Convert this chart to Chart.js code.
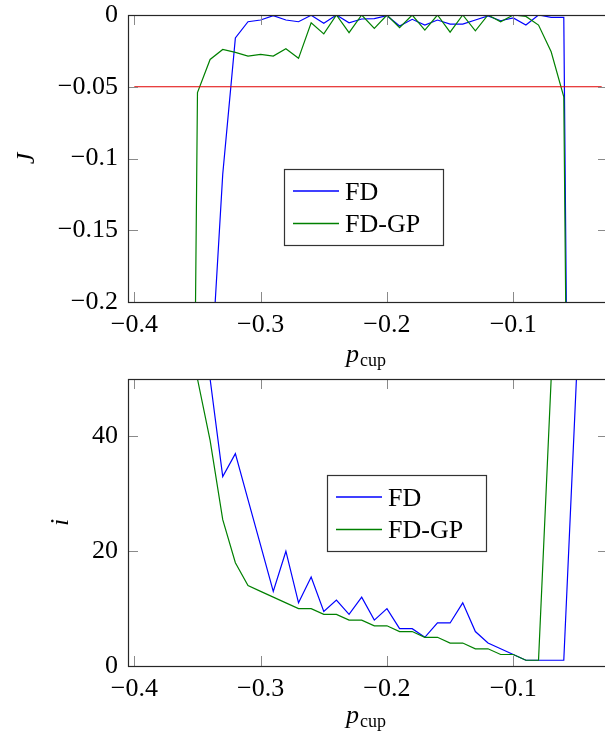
<!DOCTYPE html>
<html>
<head>
<meta charset="utf-8">
<title>J and i vs p_cup</title>
<script src="https://cdn.jsdelivr.net/npm/chart.js@4.4.1/dist/chart.umd.min.js"></script>
<style>
  html, body { margin: 0; padding: 0; background: #fff; overflow: hidden; }
  .plot { position: absolute; left: 0; width: 620px; }
  #top { top: 0; height: 370px; }
  #bottom { top: 364px; height: 374px; }
</style>
</head>
<body>
<div class="plot" id="top"><canvas id="chartJ"></canvas></div>
<div class="plot" id="bottom"><canvas id="chartI"></canvas></div>
<script>
// p_cup sample points
const P_CUP = [-0.40, -0.39, -0.38, -0.37, -0.36, -0.35, -0.34, -0.33, -0.32, -0.31,
               -0.30, -0.29, -0.28, -0.27, -0.26, -0.25, -0.24, -0.23, -0.22, -0.21,
               -0.20, -0.19, -0.18, -0.17, -0.16, -0.15, -0.14, -0.13, -0.12, -0.11,
               -0.10, -0.09, -0.08, -0.07, -0.06, -0.05, -0.04, -0.03];

// objective J (values far below the axis are clipped)
const J_FD = [-1, -1, -1, -1, -1, -1, -0.26, -0.111, -0.016, -0.0047,
              -0.0035, -0.0005, -0.0035, -0.0047, -0.0002, -0.0058, 0, -0.0054, -0.0028, -0.0025,
              -0.0005, -0.0077, -0.003, -0.007, -0.0035, -0.0063, -0.0063, -0.0035, -0.0007, -0.004,
              -0.002, -0.007, 0, -0.0016, -0.0016, -1, -1, -1];
const J_FDGP = [-1, -1, -1, -1, -1, -0.054, -0.031, -0.024, -0.026, -0.0286,
                -0.0274, -0.0286, -0.0235, -0.0302, -0.0054, -0.0132, 0, -0.0123, 0, -0.0093,
                0, -0.0088, 0, -0.0105, 0, -0.012, 0, -0.011, 0, -0.0047,
                0, -0.001, -0.007, -0.0256, -0.057, -1, -1, -1];
const J_LIMIT = -0.05;

// iteration counts i
const I_FD = [50, 50, 50, 50, 50, 50, 50, 33, 37, 29,
              21, 13, 20, 11, 15.5, 9.5, 11.5, 9, 12, 8,
              10, 6.5, 6.5, 5, 7.5, 7.5, 11, 6, 4, 3,
              2, 1, 1, 1, 1, 50, 50, 50];
const I_FDGP = [50, 50, 50, 50, 50, 50, 39.3, 25.5, 18, 14,
                13, 12, 11, 10, 10, 9, 9, 8, 8, 7,
                7, 6, 6, 5, 5, 4, 4, 3, 3, 2,
                2, 1, 1, 50, 50, 50, 50, 50];

const X_TICKS = [-0.4, -0.3, -0.2, -0.1];
const J_TICKS = [-0.2, -0.15, -0.1, -0.05, 0];
const I_TICKS = [0, 20, 40];

const SERIF = '"Liberation Serif", "Times New Roman", serif';
const FONT_SIZE = 26;
const TICK_LEN = 10;

Chart.defaults.font.family = SERIF;
Chart.defaults.color = '#000';

function fmt(v) {
  const n = Number(v.toFixed(3));
  return (n < 0 ? '\u2212' : '') + String(Math.abs(n));
}

function pts(ys) {
  return P_CUP.map((x, k) => ({x: x, y: ys[k]}));
}

// frame, inward ticks on all four sides, x title and legend box
const pgfAxes = {
  id: 'pgfAxes',
  afterDraw(chart, args, opts) {
    const {ctx, chartArea: a, scales: {x, y}} = chart;
    ctx.save();
    ctx.strokeStyle = '#8a8a8a';
    ctx.lineWidth = 1;
    ctx.beginPath();
    x.ticks.forEach(t => {
      const px = Math.round(x.getPixelForValue(t.value)) + 0.5;
      ctx.moveTo(px, a.top); ctx.lineTo(px, a.top + TICK_LEN);
      ctx.moveTo(px, a.bottom); ctx.lineTo(px, a.bottom - TICK_LEN);
    });
    y.ticks.forEach(t => {
      const py = Math.round(y.getPixelForValue(t.value)) + 0.5;
      ctx.moveTo(a.left, py); ctx.lineTo(a.left + TICK_LEN, py);
      ctx.moveTo(a.right, py); ctx.lineTo(a.right - TICK_LEN, py);
    });
    ctx.stroke();

    ctx.strokeStyle = '#262626';
    ctx.lineWidth = 1.2;
    ctx.strokeRect(Math.round(a.left) + 0.5, Math.round(a.top) + 0.5,
                   Math.round(a.width), Math.round(a.height));

    // x axis title p_cup
    const cx = (a.left + a.right) / 2 - 2;
    const base = a.bottom + opts.titleOffset;
    ctx.fillStyle = '#000';
    ctx.textBaseline = 'alphabetic';
    ctx.font = 'italic ' + FONT_SIZE + 'px ' + SERIF;
    const wp = ctx.measureText('p').width;
    ctx.font = '18px ' + SERIF;
    const wc = ctx.measureText('cup').width;
    const x0 = cx - (wp + wc + 1) / 2;
    ctx.font = 'italic ' + FONT_SIZE + 'px ' + SERIF;
    ctx.textAlign = 'left';
    ctx.fillText('p', x0, base);
    ctx.font = '18px ' + SERIF;
    ctx.fillText('cup', x0 + wp + 1, base + 4);

    // legend
    const L = opts.legend;
    ctx.fillStyle = '#fff';
    ctx.fillRect(L.left, L.top, L.width, L.height);
    ctx.strokeStyle = '#333';
    ctx.lineWidth = 1.2;
    ctx.strokeRect(L.left + 0.5, L.top + 0.5, L.width, L.height);
    const entries = chart.data.datasets.filter(d => d.label).reverse();
    entries.forEach((d, k) => {
      const ry = L.top + 22 + k * 32.5;
      ctx.strokeStyle = d.borderColor;
      ctx.lineWidth = 1.3;
      ctx.beginPath();
      ctx.moveTo(L.left + 9, ry);
      ctx.lineTo(L.left + 55, ry);
      ctx.stroke();
      ctx.fillStyle = '#000';
      ctx.font = FONT_SIZE + 'px ' + SERIF;
      ctx.fillText(d.label, L.left + 61, ry + 8.5);
    });
    ctx.restore();
  }
};

function xScale() {
  return {
    type: 'linear',
    min: -0.405,
    max: -0.025,
    afterBuildTicks: s => { s.ticks = X_TICKS.map(v => ({value: v})); },
    afterFit: s => {
      s.height = s.chart.height - 302;
      s.paddingLeft = 0; s.paddingRight = 0;
    },
    grid: {display: false, drawTicks: false},
    border: {display: false},
    ticks: {
      autoSkip: false, maxRotation: 0, padding: 10,
      font: {size: FONT_SIZE, lineHeight: 1},
      callback: v => fmt(v)
    }
  };
}

function yScale(min, max, ticks, title, titlePad) {
  return {
    type: 'linear',
    min: min,
    max: max,
    afterBuildTicks: s => { s.ticks = ticks.map(v => ({value: v})); },
    afterFit: s => {
      s.width = 128;
      s.paddingTop = 0; s.paddingBottom = 0;
    },
    grid: {display: false, drawTicks: false},
    border: {display: false},
    ticks: {
      autoSkip: false, padding: 10,
      font: {size: FONT_SIZE, lineHeight: 1},
      callback: v => fmt(v)
    },
    title: {
      display: true, text: title,
      padding: {top: titlePad, bottom: 0},
      font: {size: FONT_SIZE, style: 'italic'}
    }
  };
}

function lineSet(label, color, ys) {
  return {
    label: label, data: pts(ys), borderColor: color, backgroundColor: color,
    borderWidth: 1.2, pointRadius: 0, tension: 0, fill: false
  };
}

const common = {
  responsive: true,
  maintainAspectRatio: false,
  animation: false,
  devicePixelRatio: 1
};

new Chart(document.getElementById('chartJ'), {
  type: 'line',
  data: {
    datasets: [
      {label: '', data: [{x: P_CUP[0], y: J_LIMIT}, {x: P_CUP[P_CUP.length - 1], y: J_LIMIT}],
       borderColor: '#e00000', borderWidth: 1.2, pointRadius: 0},
      lineSet('FD-GP', '#008000', J_FDGP),
      lineSet('FD', '#0000ff', J_FD)
    ]
  },
  options: Object.assign({}, common, {
    layout: {padding: {top: 15, right: 12, left: 0, bottom: 0}},
    scales: {x: xScale(), y: yScale(-0.2, 0, J_TICKS, 'J', 12)},
    plugins: {
      legend: {display: false},
      tooltip: {enabled: false},
      pgfAxes: {titleOffset: 60, legend: {left: 284, top: 169, width: 159, height: 76}}
    }
  }),
  plugins: [pgfAxes]
});

new Chart(document.getElementById('chartI'), {
  type: 'line',
  data: {
    datasets: [
      lineSet('FD-GP', '#008000', I_FDGP),
      lineSet('FD', '#0000ff', I_FD)
    ]
  },
  options: Object.assign({}, common, {
    layout: {padding: {top: 15, right: 12, left: 0, bottom: 0}},
    scales: {x: xScale(), y: yScale(0, 50, I_TICKS, 'i', 46)},
    plugins: {
      legend: {display: false},
      tooltip: {enabled: false},
      pgfAxes: {titleOffset: 57, legend: {left: 327, top: 111, width: 159, height: 76}}
    }
  }),
  plugins: [pgfAxes]
});
</script>
</body>
</html>
